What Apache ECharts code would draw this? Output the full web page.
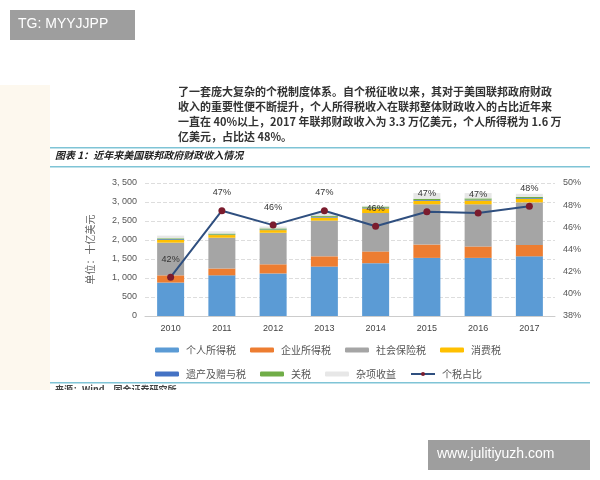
<!DOCTYPE html>
<html><head><meta charset="utf-8">
<script src="https://cdn.jsdelivr.net/npm/echarts@6/dist/echarts.min.js"></script>
<style>html,body{margin:0;background:#fff}#c{width:600px;height:480px}</style></head>
<body><div id="c"></div>
<script>
const years=['2010','2011','2012','2013','2014','2015','2016','2017'];
const individual=[880,1070,1120,1300,1390,1530,1530,1570];
const corporate=[190,180,240,270,310,350,300,300];
const social=[860,810,830,940,1010,1060,1110,1120];
const excise=[70,70,70,80,120,90,100,90];
const estate=[20,10,15,20,20,20,20,20];
const customs=[25,30,30,30,30,35,35,35];
const misc=[70,60,50,60,20,150,140,80];
const share=[41.5,47.5,46.2,47.5,46.1,47.4,47.3,47.9];
const shareLabels=['42%','47%','46%','47%','46%','47%','47%','48%'];
const F='"Noto Sans CJK SC", sans-serif';
const c=echarts.init(document.getElementById('c'));
const bar=(n,d,col)=>({name:n,type:'bar',stack:'t',data:d,barWidth:27,itemStyle:{color:col}});
c.setOption({
 animation:false,
 grid:{left:145,right:45,top:183,bottom:164},
 legend:{left:150,top:340,width:390,itemWidth:24,itemHeight:5,itemGap:14,textStyle:{fontFamily:F,fontSize:10,color:'#555',padding:[0,0,0,2]},
   data:['个人所得税','企业所得税','社会保险税','消费税','遗产及赠与税','关税','杂项收益','个税占比']},
 xAxis:{type:'category',data:years,axisTick:{show:false},axisLine:{lineStyle:{color:'#ccc'}},axisLabel:{color:'#444',fontSize:9}},
 yAxis:[{type:'value',min:0,max:3500,interval:500,axisLabel:{color:'#555',fontSize:9,formatter:v=>v.toLocaleString('en-US').replace(',',', ')},
   splitLine:{lineStyle:{type:'dashed',color:'#ddd'}},name:'单位：十亿美元',nameLocation:'middle',nameGap:50,nameRotate:90,nameTextStyle:{fontFamily:F,fontSize:10,color:'#666'}},
  {type:'value',min:38,max:50,interval:2,axisLabel:{formatter:'{value}%',color:'#555',fontSize:9},splitLine:{show:false}}],
 series:[bar('个人所得税',individual,'#5b9bd5'),bar('企业所得税',corporate,'#ed7d31'),bar('社会保险税',social,'#a5a5a5'),
  bar('消费税',excise,'#ffc000'),bar('遗产及赠与税',estate,'#4472c4'),bar('关税',customs,'#70ad47'),bar('杂项收益',misc,'#e7e7e7'),
  {name:'个税占比',type:'line',yAxisIndex:1,data:share,symbol:'circle',symbolSize:7,itemStyle:{color:'#7b1c2e'},lineStyle:{color:'#2f4f7f',width:2},
   label:{show:true,position:'top',distance:10,fontSize:9,color:'#333',formatter:p=>shareLabels[p.dataIndex]}}],
 graphic:[
  {type:'rect',shape:{x:0,y:85,width:50,height:305},style:{fill:'#fdf8ee'}},
  {type:'text',left:178,top:84,style:{text:'了一套庞大复杂的个税制度体系。自个税征收以来，其对于美国联邦政府财政\n收入的重要性便不断提升，个人所得税收入在联邦整体财政收入的占比近年来\n一直在 40%以上，2017 年联邦财政收入为 3.3 万亿美元，个人所得税为 1.6 万\n亿美元，占比达 48%。',font:'bold 11px '+F,fill:'#333',lineHeight:15}},
  {type:'rect',shape:{x:50,y:147,width:540,height:1.5},style:{fill:'#7fc4d6'}},
  {type:'rect',shape:{x:50,y:166,width:540,height:1.5},style:{fill:'#7fc4d6'}},
  {type:'text',left:55,top:150,style:{text:'图表 1：近年来美国联邦政府财政收入情况',font:'italic bold 10px '+F,fill:'#222'}},
  {type:'rect',shape:{x:50,y:382,width:540,height:1.5},style:{fill:'#7fc4d6'}},
  {type:'text',left:55,top:385,style:{text:'来源：Wind，国金证券研究所',font:'bold 9px '+F,fill:'#444'}},
  {type:'rect',shape:{x:0,y:390,width:600,height:90},style:{fill:'#fff'}},
  {type:'rect',shape:{x:10,y:10,width:125,height:30},style:{fill:'#9e9e9e'}},
  {type:'text',left:18,top:17,style:{text:'TG: MYYJJPP',font:'14px "Liberation Sans"',fill:'#fff'}},
  {type:'rect',shape:{x:428,y:440,width:162,height:30},style:{fill:'#9e9e9e'}},
  {type:'text',left:437,top:447,style:{text:'www.julitiyuzh.com',font:'14px "Liberation Sans"',fill:'#fff'}}
 ]
});
</script></body></html>
